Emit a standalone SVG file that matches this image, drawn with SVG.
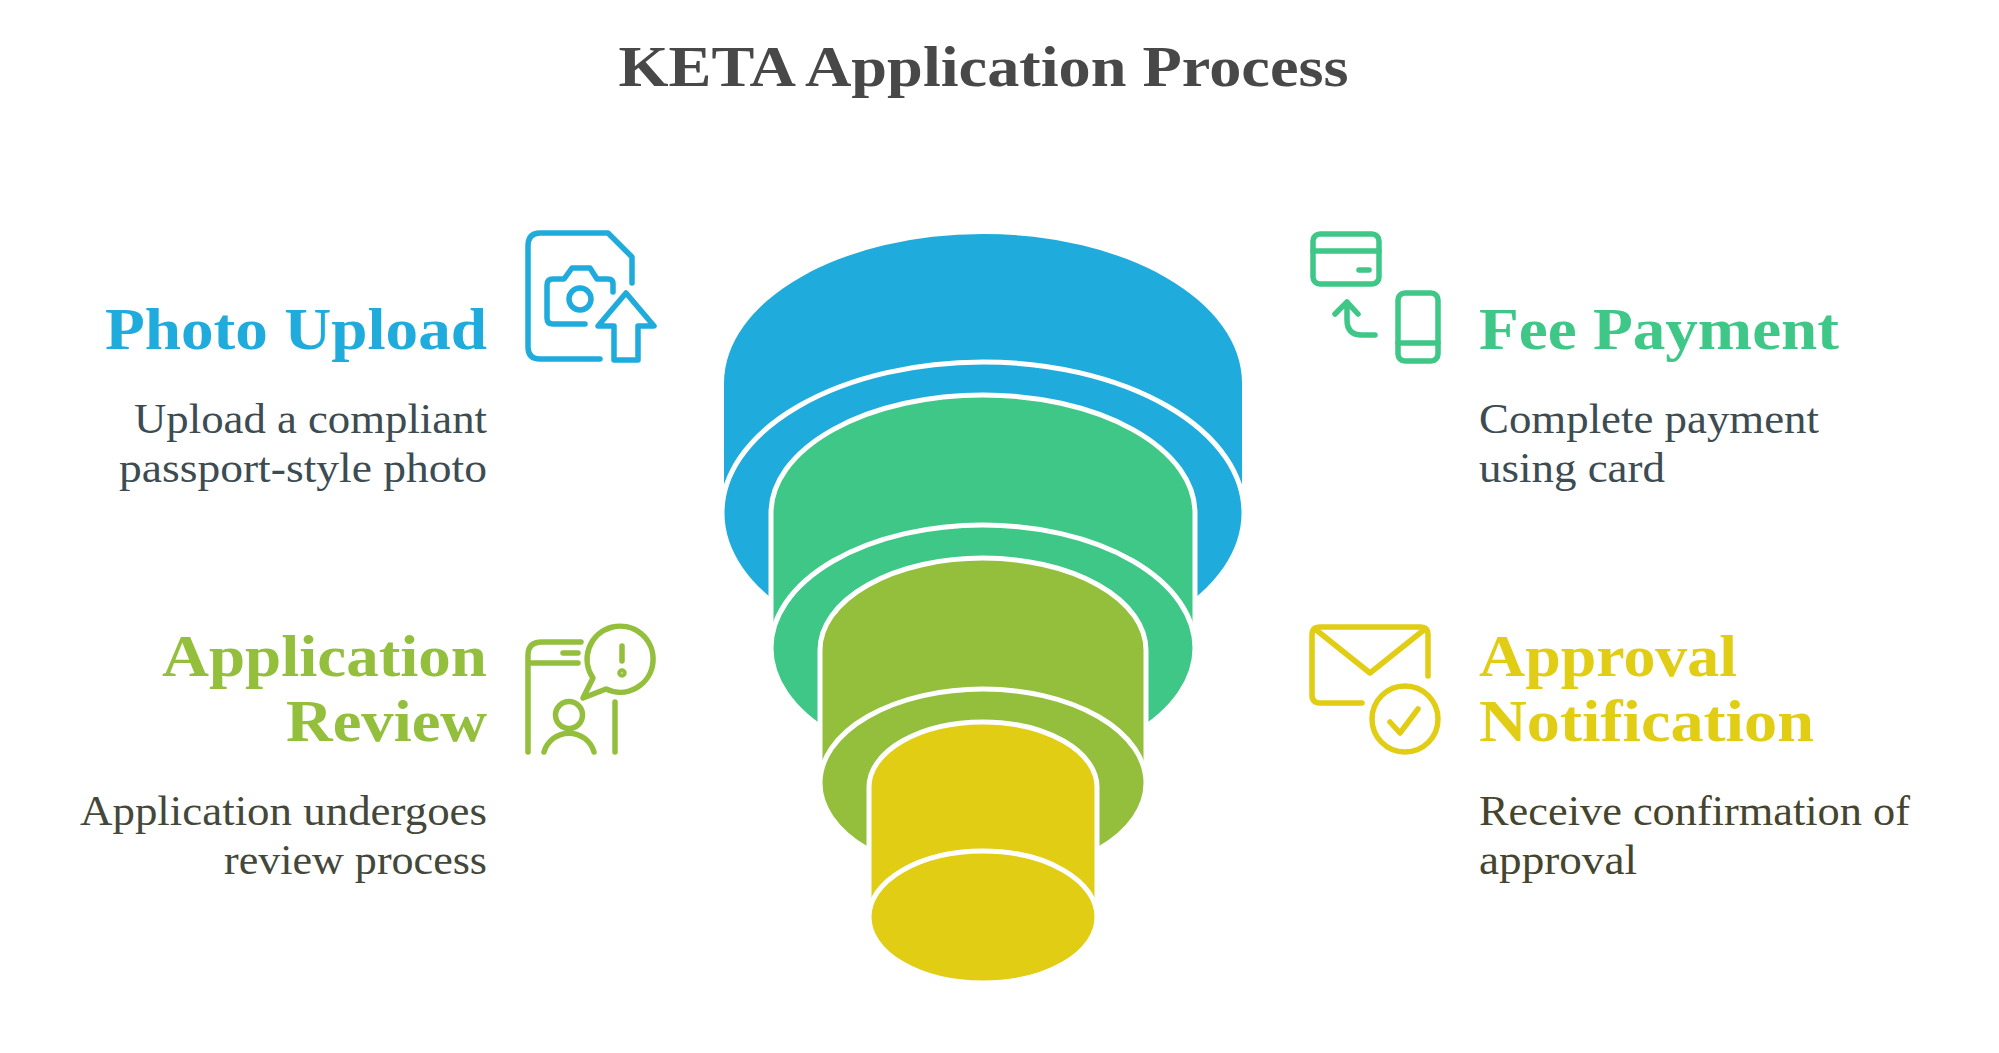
<svg xmlns="http://www.w3.org/2000/svg" width="1999" height="1053" viewBox="0 0 1999 1053">
<style>
text{font-family:"Liberation Serif","Times New Roman",serif}
.title{font-size:58px;font-weight:700;fill:#484848;text-anchor:middle}
.h{font-size:60px;font-weight:700}
.d{font-size:43px}
.e{text-anchor:end}
.ic{fill:none;stroke-width:5.5;stroke-linecap:round;stroke-linejoin:round}
.cy{stroke:#fff;stroke-width:5}
.blue{fill:#1FACDC}.green{fill:#3EC787}.olive{fill:#93BF3C}.yellow{fill:#E0CD14}
</style>
<rect width="1999" height="1053" fill="#fff"/>
<g id="title"><text class="title" x="983.5" y="86" textLength="730" lengthAdjust="spacingAndGlyphs">KETA Application Process</text></g>
<g id="funnel">
<g id="level-blue"><path class="blue" d="M724 383A259 149 0 0 1 1242 383V513H724Z"/><ellipse class="blue cy" cx="983" cy="513" rx="261" ry="151"/></g>
<g id="level-green"><path class="green cy" d="M771 513A212 118 0 0 1 1195 513V648H771Z"/><ellipse class="green cy" cx="983" cy="648" rx="212" ry="123"/></g>
<g id="level-olive"><path class="olive cy" d="M820 650A163 92 0 0 1 1146 650V783H820Z"/><ellipse class="olive cy" cx="983" cy="783" rx="163" ry="94"/></g>
<g id="level-yellow"><path class="yellow cy" d="M869 787A114 65 0 0 1 1097 787V917H869Z"/><ellipse class="yellow cy" cx="983" cy="917" rx="114" ry="66"/></g>
</g>
<g id="connectors"></g>
<g id="photo-upload">
<text class="h e" x="487" y="349" fill="#1FACDC" textLength="382" lengthAdjust="spacingAndGlyphs">Photo Upload</text>
<text class="d e" x="487" y="433" fill="#3C4C52" textLength="353" lengthAdjust="spacingAndGlyphs">Upload a compliant</text>
<text class="d e" x="487" y="482" fill="#3C4C52" textLength="368" lengthAdjust="spacingAndGlyphs">passport-style photo</text>
<g class="ic" stroke="#1FACDC">
<path d="M600 359H540Q528 359 528 347V246Q528 233 540 233H608L632 257V283"/>
<path d="M613 292V284Q613 279 608 279H597L590 268H572L564 279H553Q547 279 547 285V318Q547 324 553 324H585"/>
<circle cx="580" cy="299" r="11"/>
<path d="M626 293L654 326H638V360H614V326H598Z"/>
</g></g>
<g id="fee-payment">
<text class="h" x="1479" y="349" fill="#3EC787" textLength="360" lengthAdjust="spacingAndGlyphs">Fee Payment</text>
<text class="d" x="1479" y="433" fill="#3C4C52" textLength="340" lengthAdjust="spacingAndGlyphs">Complete payment</text>
<text class="d" x="1479" y="482" fill="#3C4C52" textLength="186" lengthAdjust="spacingAndGlyphs">using card</text>
<g class="ic" stroke="#3EC787">
<rect x="1313" y="234" width="66" height="50" rx="7"/>
<path d="M1313 251H1379M1359 270H1369"/>
<rect x="1398" y="293" width="40" height="68" rx="7"/>
<path d="M1398 343H1438"/>
<path d="M1335 314L1347 302L1358 314M1347 302V320Q1347 335 1362 335H1375"/>
</g></g>
<g id="application-review">
<text class="h e" x="487" y="676" fill="#93BF3C" textLength="325" lengthAdjust="spacingAndGlyphs">Application</text>
<text class="h e" x="487" y="741" fill="#93BF3C" textLength="201" lengthAdjust="spacingAndGlyphs">Review</text>
<text class="d e" x="487" y="825" fill="#44483A" textLength="407" lengthAdjust="spacingAndGlyphs">Application undergoes</text>
<text class="d e" x="487" y="874" fill="#44483A" textLength="263" lengthAdjust="spacingAndGlyphs">review process</text>
<g class="ic" stroke="#93BF3C">
<path d="M528 752V655Q528 642 542 642H581M530 663H578M563 653H578"/>
<path d="M593 678A33 33 0 1 1 606 689L583 698Z"/>
<path d="M622 646V661"/><circle cx="622" cy="673" r="2"/>
<path d="M615 702V752"/>
<circle cx="569" cy="715" r="13.5"/>
<path d="M544 752A26 26 0 0 1 594 752"/>
</g></g>
<g id="approval-notification">
<text class="h" x="1479" y="676" fill="#E0CD14" textLength="258" lengthAdjust="spacingAndGlyphs">Approval</text>
<text class="h" x="1479" y="741" fill="#E0CD14" textLength="335" lengthAdjust="spacingAndGlyphs">Notification</text>
<text class="d" x="1479" y="825" fill="#45452E" textLength="431" lengthAdjust="spacingAndGlyphs">Receive confirmation of</text>
<text class="d" x="1479" y="874" fill="#45452E" textLength="158" lengthAdjust="spacingAndGlyphs">approval</text>
<g class="ic" stroke="#E0CD14">
<path d="M1362 703H1320Q1312 703 1312 695V635Q1312 627 1320 627H1420Q1428 627 1428 635V676"/>
<path d="M1315 629L1370 673L1425 629"/>
<circle cx="1405" cy="719" r="33"/>
<path d="M1390 722L1400 733L1418 709"/>
</g></g>
</svg>
